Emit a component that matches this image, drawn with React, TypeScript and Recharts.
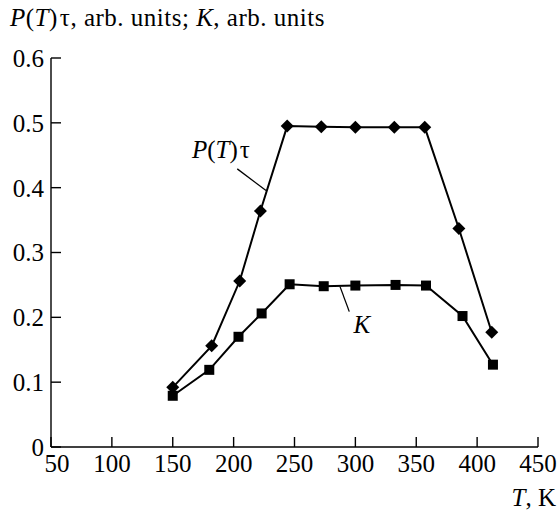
import React from 'react';
import { LineChart, Line, XAxis, YAxis, ReferenceLine, ReferenceDot } from 'recharts';

// P(T)tau series
const pTemps = [150, 182, 205, 222, 244, 272, 300, 332, 357, 385, 412];
const pValues = [0.092, 0.156, 0.256, 0.364, 0.495, 0.494, 0.493, 0.493, 0.493, 0.337, 0.177];
// K series
const kTemps = [150, 180, 204, 223, 246, 274, 300, 333, 358, 388, 413];
const kValues = [0.079, 0.119, 0.17, 0.206, 0.251, 0.248, 0.249, 0.25, 0.249, 0.202, 0.127];

const xTicks = [50, 100, 150, 200, 250, 300, 350, 400, 450];
const yTicks = [0, 0.1, 0.2, 0.3, 0.4, 0.5, 0.6];

const pData = pTemps.map((t, i) => ({ t, v: pValues[i] }));
const kData = kTemps.map((t, i) => ({ t, v: kValues[i] }));

const FONT = '"Liberation Serif", "Times New Roman", serif';
const FS = 25;

const renderDiamond = (props: any) => {
  const { cx, cy, index } = props;
  if (cx == null || cy == null) return <g key={'d' + index} />;
  const r = 6.5;
  return (
    <polygon
      key={'d' + index}
      points={`${cx},${cy - r} ${cx + r},${cy} ${cx},${cy + r} ${cx - r},${cy}`}
      fill="#000"
    />
  );
};

const renderSquare = (props: any) => {
  const { cx, cy, index } = props;
  if (cx == null || cy == null) return <g key={'s' + index} />;
  return <rect key={'s' + index} x={cx - 5} y={cy - 5} width={10} height={10} fill="#000" />;
};

const XTick = (props: any) => {
  const { x, y, payload } = props;
  const dx = payload.value === 50 ? 6 : 0;
  return (
    <text x={x + dx} y={y} dy="0.71em" textAnchor="middle" fontFamily={FONT} fontSize={FS} fill="#000">
      {payload.value}
    </text>
  );
};

const YTick = (props: any) => {
  const { x, y, payload } = props;
  const label = payload.value === 0 ? '0' : Number(payload.value).toFixed(1);
  return (
    <text x={x} y={y} dy="0.355em" textAnchor="end" fontFamily={FONT} fontSize={FS} fill="#000">
      {label}
    </text>
  );
};

const PLabel = (props: any) => (
  <text x={props.cx} y={props.cy} fontFamily={FONT} fontSize={FS} fill="#000">
    <tspan fontStyle="italic">P</tspan>(<tspan fontStyle="italic">T</tspan>)<tspan dx={2}>τ</tspan>
  </text>
);

const KLabel = (props: any) => (
  <text x={props.cx} y={props.cy} textAnchor="middle" fontFamily={FONT} fontSize={FS} fill="#000" fontStyle="italic">
    K
  </text>
);

export default function App() {
  return (
    <div style={{ position: 'absolute', left: 0, top: 0, width: 560, height: 511, background: '#fff' }}>
      <LineChart width={560} height={511} data={pData} margin={{ top: 58, right: 22, bottom: 34, left: 0 }}>
        <XAxis
          dataKey="t"
          type="number"
          domain={[50, 450]}
          ticks={xTicks}
          allowDataOverflow
          height={30}
          axisLine={{ stroke: '#000', strokeWidth: 1.4 }}
          tickLine={{ stroke: '#000', strokeWidth: 1.4 }}
          tickSize={-10}
          tickMargin={17}
          tick={XTick}
          interval={0}
        />
        <YAxis
          dataKey="v"
          type="number"
          domain={[0, 0.6]}
          ticks={yTicks}
          allowDataOverflow
          width={51}
          axisLine={{ stroke: '#000', strokeWidth: 1.4 }}
          tickLine={{ stroke: '#000', strokeWidth: 1.4 }}
          tickSize={-10}
          tickMargin={17}
          tick={YTick}
          interval={0}
        />
        <Line
          data={pData}
          dataKey="v"
          type="linear"
          stroke="#000"
          strokeWidth={2}
          dot={renderDiamond}
          activeDot={false}
          isAnimationActive={false}
        />
        <Line
          data={kData}
          dataKey="v"
          type="linear"
          stroke="#000"
          strokeWidth={2}
          dot={renderSquare}
          activeDot={false}
          isAnimationActive={false}
        />
        <ReferenceLine
          segment={[{ x: 203, y: 0.429 }, { x: 226.6, y: 0.3955 }]}
          stroke="#000"
          strokeWidth={1.3}
        />
        <ReferenceLine
          segment={[{ x: 287.4, y: 0.2474 }, { x: 295, y: 0.2088 }]}
          stroke="#000"
          strokeWidth={1.3}
        />
        <ReferenceDot x={165.8} y={0.446} r={0} shape={PLabel} />
        <ReferenceDot x={305.4} y={0.176} r={0} shape={KLabel} />
      </LineChart>
      <svg
        width={560}
        height={511}
        style={{ position: 'absolute', left: 0, top: 0, pointerEvents: 'none' }}
      >
        <text x={10} y={26} fontFamily={FONT} fontSize={FS} letterSpacing={0.5} fill="#000">
          <tspan fontStyle="italic">P</tspan>(<tspan fontStyle="italic">T</tspan>)<tspan dx={2}>τ</tspan>, arb. units; <tspan fontStyle="italic">K</tspan>, arb. units
        </text>
        <text x={556} y={506} textAnchor="end" fontFamily={FONT} fontSize={FS} fill="#000">
          <tspan fontStyle="italic">T</tspan>, K
        </text>
      </svg>
    </div>
  );
}
